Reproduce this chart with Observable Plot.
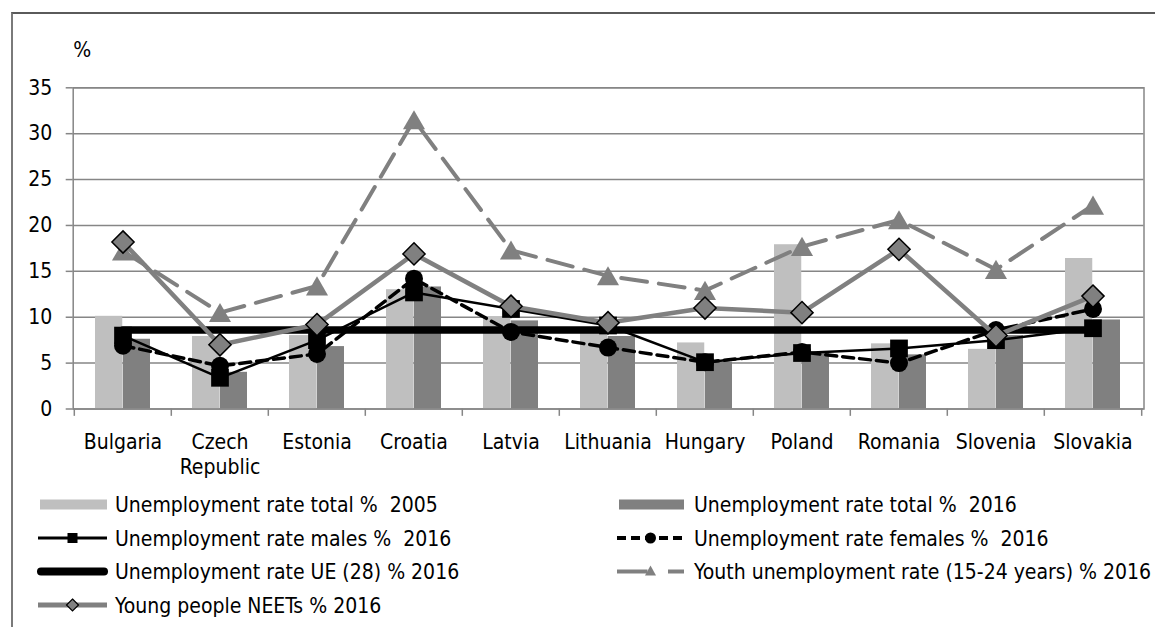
<!DOCTYPE html>
<html><head><meta charset="utf-8">
<script src="https://cdn.jsdelivr.net/npm/d3@7"></script>
<script src="https://cdn.jsdelivr.net/npm/@observablehq/plot@0.6"></script>
<style>
html,body{margin:0;padding:0;background:#fff;}
#wrap{position:relative;width:1155px;height:627px;overflow:hidden;font-family:"DejaVu Sans Condensed","Liberation Sans",sans-serif;}
#border{position:absolute;left:11px;top:12px;width:1200px;height:700px;border-left:2px solid #7a7a7a;border-top:2px solid #5a5a5a;}
#chart{position:absolute;left:0;top:0;}
#legend{position:absolute;left:0;top:480px;}
#legend text{white-space:pre;font-size:21px;}
</style></head><body>
<div id="wrap"><div id="border"></div><div id="chart"></div><svg id="legend" width="1155" height="147"></svg></div>
<script>
const FONT = '"DejaVu Sans Condensed","Liberation Sans",sans-serif';

const countries = ["Bulgaria","Czech Republic","Estonia","Croatia","Latvia","Lithuania","Hungary","Poland","Romania","Slovenia","Slovakia"];
const tickLabels = ["Bulgaria","Czech\nRepublic","Estonia","Croatia","Latvia","Lithuania","Hungary","Poland","Romania","Slovenia","Slovakia"];
const total2005 = [10.1, 7.9, 8.0, 13.0, 10.0, 8.3, 7.2, 17.9, 7.1, 6.5, 16.4];
const total2016 = [7.6, 4.0, 6.8, 13.3, 9.6, 7.9, 5.1, 6.2, 5.9, 8.0, 9.7];
const males2016 = [8.0, 3.4, 7.5, 12.7, 10.9, 9.1, 5.1, 6.1, 6.6, 7.5, 8.8];
const females2016 = [6.9, 4.7, 6.0, 14.2, 8.4, 6.7, 5.1, 6.2, 5.0, 8.6, 10.9];
const ue28_2016 = [8.6, 8.6, 8.6, 8.6, 8.6, 8.6, 8.6, 8.6, 8.6, 8.6, 8.6];
const youth2016 = [17.2, 10.5, 13.4, 31.5, 17.3, 14.5, 12.9, 17.7, 20.6, 15.2, 22.2];
const neets2016 = [18.2, 7.0, 9.2, 16.9, 11.2, 9.4, 11.0, 10.5, 17.4, 8.0, 12.3];
const yTicks = [0, 5, 10, 15, 20, 25, 30, 35];
const legendLabels = [
  "Unemployment rate total %  2005",
  "Unemployment rate total %  2016",
  "Unemployment rate males %  2016",
  "Unemployment rate females %  2016",
  "Unemployment rate UE (28) % 2016",
  "Youth unemployment rate (15-24 years) % 2016",
  "Young people NEETs % 2016"
];

const rows = countries.map((c, i) => ({
  country: c, label: tickLabels[i],
  t2005: total2005[i], t2016: total2016[i],
  males: males2016[i], females: females2016[i], ue: ue28_2016[i],
  youth: youth2016[i], neet: neets2016[i]
}));

const GRID = "#868686";
const chart = Plot.plot({
  width: 1155, height: 480,
  marginLeft: 72.7, marginRight: 11.5, marginTop: 87.3, marginBottom: 71.5,
  style: {fontFamily: FONT, fontSize: "21px", color: "#000", background: "transparent", overflow: "visible"},
  x: {type: "band", domain: countries, paddingInner: 0.43, paddingOuter: 0.215, align: 0.5, axis: null},
  y: {domain: [0, 35], axis: null},
  marks: [
    Plot.ruleY(yTicks, {stroke: GRID, strokeWidth: 1.5}),
    Plot.barY(rows, {x: "country", y: "t2005", fill: "#bfbfbf", insetRight: 27.75}),
    Plot.barY(rows, {x: "country", y: "t2016", fill: "#808080", insetLeft: 27.75}),
    Plot.frame({stroke: GRID, strokeWidth: 1.5}),
    Plot.ruleX(countries, {x: d => d, y1: 0, y2: -0.8, dx: -48.7, stroke: GRID, strokeWidth: 1.5}),
    Plot.ruleX(countries.slice(-1), {x: d => d, y1: 0, y2: -0.8, dx: 48.7, stroke: GRID, strokeWidth: 1.5}),
    Plot.axisY({ticks: yTicks, tickSize: 7, tickPadding: 14, stroke: GRID, strokeWidth: 1.5, fontSize: 21, label: null}),
    Plot.text(rows, {x: "country", text: "label", frameAnchor: "bottom", lineAnchor: "top", dy: 23, lineHeight: 1.17, fontSize: 21, fill: "#000"}),
    Plot.text(["%"], {frameAnchor: "top-left", textAnchor: "start", dy: -46, fontSize: 21, fill: "#000"}),
    // males
    Plot.lineY(rows, {x: "country", y: "males", stroke: "#000", strokeWidth: 2.5}),
    Plot.dot(rows, {x: "country", y: "males", symbol: "square", r: 10, fill: "#000"}),
    // females
    Plot.lineY(rows, {x: "country", y: "females", stroke: "#000", strokeWidth: 3.5, strokeDasharray: "11,6"}),
    Plot.dot(rows, {x: "country", y: "females", symbol: "circle", r: 9, fill: "#000"}),
    // UE28
    Plot.lineY(rows, {x: "country", y: "ue", stroke: "#000", strokeWidth: 7.5, strokeLinecap: "round"}),
    // youth
    Plot.lineY(rows, {x: "country", y: "youth", stroke: "#808080", strokeWidth: 4, strokeDasharray: "26,12"}),
    Plot.dot(rows, {x: "country", y: "youth", symbol: "triangle", r: 8.2, fill: "#808080", dy: 3}),
    // NEETs
    Plot.lineY(rows, {x: "country", y: "neet", stroke: "#808080", strokeWidth: 4.5}),
    Plot.dot(rows, {x: "country", y: "neet", symbol: "diamond2", r: 10, fill: "#808080", stroke: "#000", strokeWidth: 1.5})
  ]
});
document.getElementById("chart").appendChild(chart);

// Legend
const leg = d3.select("#legend").style("font-family", FONT);
const base = [32, 65.5, 99, 132.5];
const cols = [{s0: 38, s1: 107, t: 115}, {s0: 617, s1: 684, t: 694}];
const items = [
  {col: 0, row: 0, type: "bar", fill: "#bfbfbf"},
  {col: 1, row: 0, type: "bar", fill: "#808080"},
  {col: 0, row: 1, type: "males"},
  {col: 1, row: 1, type: "females"},
  {col: 0, row: 2, type: "ue"},
  {col: 1, row: 2, type: "youth"},
  {col: 0, row: 3, type: "neet"}
];
items.forEach((it, i) => {
  const c = cols[it.col], b = base[it.row], m = b - 7.5, cx = (c.s0 + c.s1) / 2;
  const g = leg.append("g");
  if (it.type === "bar") {
    g.append("rect").attr("x", c.s0 + 2).attr("y", m - 5).attr("width", c.s1 - c.s0 - 2).attr("height", 10).attr("fill", it.fill);
  } else if (it.type === "males") {
    g.append("line").attr("x1", c.s0).attr("x2", c.s1).attr("y1", m).attr("y2", m).attr("stroke", "#000").attr("stroke-width", 3);
    g.append("rect").attr("x", cx - 5).attr("y", m - 5).attr("width", 10).attr("height", 10).attr("fill", "#000");
  } else if (it.type === "females") {
    g.append("line").attr("x1", c.s0).attr("x2", c.s1).attr("y1", m).attr("y2", m).attr("stroke", "#000").attr("stroke-width", 4).attr("stroke-dasharray", "9,5");
    g.append("circle").attr("cx", cx).attr("cy", m).attr("r", 5.5).attr("fill", "#000");
  } else if (it.type === "ue") {
    g.append("line").attr("x1", c.s0 + 3).attr("x2", c.s1 - 3).attr("y1", m).attr("y2", m).attr("stroke", "#000").attr("stroke-width", 8).attr("stroke-linecap", "round");
  } else if (it.type === "youth") {
    g.append("line").attr("x1", c.s0).attr("x2", cx - 3).attr("y1", m).attr("y2", m).attr("stroke", "#808080").attr("stroke-width", 4);
    g.append("line").attr("x1", c.s1 - 16).attr("x2", c.s1).attr("y1", m).attr("y2", m).attr("stroke", "#808080").attr("stroke-width", 4);
    g.append("path").attr("d", `M${cx},${m - 6}L${cx + 5.5},${m + 4}L${cx - 5.5},${m + 4}Z`).attr("fill", "#808080");
  } else if (it.type === "neet") {
    g.append("line").attr("x1", c.s0).attr("x2", c.s1).attr("y1", m).attr("y2", m).attr("stroke", "#808080").attr("stroke-width", 5);
    g.append("path").attr("d", `M${cx},${m - 6}L${cx + 6},${m}L${cx},${m + 6}L${cx - 6},${m}Z`).attr("fill", "#808080").attr("stroke", "#000").attr("stroke-width", 1.2);
  }
  g.append("text").attr("x", c.t).attr("y", b).attr("fill", "#000").text(legendLabels[i]);
});
</script>
</body></html>
